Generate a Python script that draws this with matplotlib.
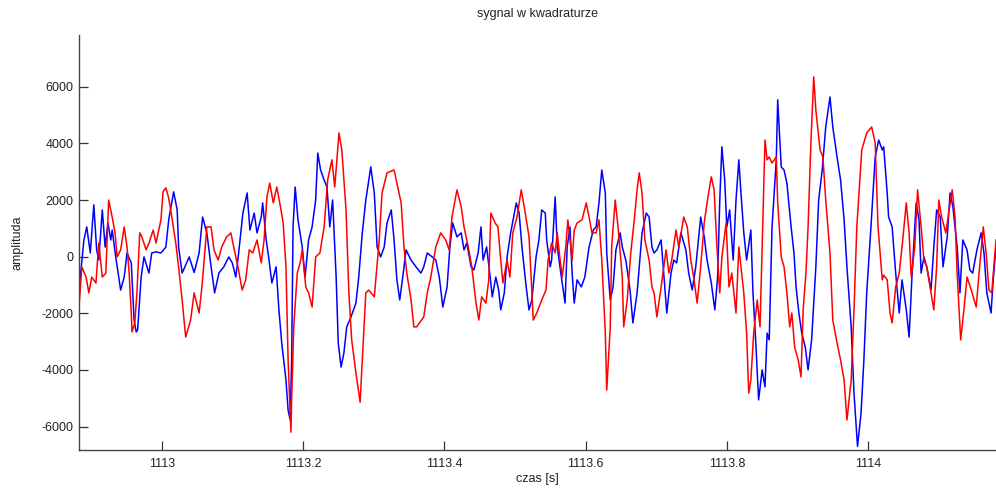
import matplotlib
matplotlib.use("Agg")
import matplotlib.pyplot as plt

plt.rcParams['font.family'] = ['Liberation Sans', 'DejaVu Sans']
plt.rcParams['axes.unicode_minus'] = False

# kanal I (niebieski)
t_i = [1112.883, 1112.890, 1112.894, 1112.899, 1112.904, 1112.908, 1112.911, 1112.916,
       1112.920, 1112.924, 1112.928, 1112.930, 1112.935, 1112.942, 1112.947, 1112.951,
       1112.957, 1112.961, 1112.964, 1112.966, 1112.971, 1112.975, 1112.982, 1112.986,
       1112.992, 1112.999, 1113.006, 1113.010, 1113.017, 1113.022, 1113.024, 1113.029,
       1113.039, 1113.046, 1113.053, 1113.058, 1113.064, 1113.070, 1113.075, 1113.081,
       1113.088, 1113.095, 1113.100, 1113.105, 1113.109, 1113.115, 1113.121, 1113.125,
       1113.131, 1113.135, 1113.141, 1113.143, 1113.148, 1113.152, 1113.156, 1113.162,
       1113.166, 1113.170, 1113.176, 1113.179, 1113.182, 1113.184, 1113.186, 1113.189,
       1113.193, 1113.199, 1113.203, 1113.208, 1113.213, 1113.218, 1113.221, 1113.225,
       1113.230, 1113.234, 1113.238, 1113.242, 1113.247, 1113.250, 1113.254, 1113.258,
       1113.262, 1113.268, 1113.275, 1113.279, 1113.284, 1113.289, 1113.296, 1113.301,
       1113.305, 1113.310, 1113.315, 1113.319, 1113.325, 1113.329, 1113.333, 1113.337,
       1113.342, 1113.346, 1113.353, 1113.360, 1113.367, 1113.371, 1113.376, 1113.383,
       1113.388, 1113.393, 1113.398, 1113.404, 1113.408, 1113.412, 1113.418, 1113.424,
       1113.428, 1113.432, 1113.438, 1113.442, 1113.448, 1113.452, 1113.455, 1113.460,
       1113.465, 1113.468, 1113.473, 1113.477, 1113.480, 1113.485, 1113.489, 1113.494,
       1113.502, 1113.506, 1113.510, 1113.516, 1113.520, 1113.524, 1113.530, 1113.534,
       1113.538, 1113.543, 1113.545, 1113.550, 1113.552, 1113.557, 1113.560, 1113.565,
       1113.571, 1113.574, 1113.578, 1113.581, 1113.584, 1113.588, 1113.594, 1113.599,
       1113.605, 1113.611, 1113.615, 1113.619, 1113.623, 1113.628, 1113.630, 1113.635,
       1113.639, 1113.643, 1113.649, 1113.652, 1113.657, 1113.663, 1113.667, 1113.673,
       1113.680, 1113.686, 1113.690, 1113.694, 1113.697, 1113.701, 1113.707, 1113.711,
       1113.715, 1113.721, 1113.725, 1113.729, 1113.735, 1113.742, 1113.746, 1113.751,
       1113.756, 1113.763, 1113.768, 1113.772, 1113.778, 1113.783, 1113.787, 1113.790,
       1113.793, 1113.797, 1113.800, 1113.804, 1113.809, 1113.813, 1113.817, 1113.820,
       1113.824, 1113.828, 1113.834, 1113.837, 1113.841, 1113.845, 1113.850, 1113.854,
       1113.857, 1113.860, 1113.864, 1113.870, 1113.872, 1113.877, 1113.881, 1113.885,
       1113.891, 1113.895, 1113.898, 1113.902, 1113.906, 1113.911, 1113.915, 1113.920,
       1113.926, 1113.930, 1113.935, 1113.940, 1113.946, 1113.950, 1113.956, 1113.961,
       1113.966, 1113.970, 1113.976, 1113.980, 1113.985, 1113.990, 1113.994, 1113.998,
       1114.004, 1114.010, 1114.015, 1114.020, 1114.022, 1114.027, 1114.029, 1114.034,
       1114.039, 1114.044, 1114.048, 1114.054, 1114.058, 1114.062, 1114.068, 1114.072,
       1114.075, 1114.079, 1114.083, 1114.089, 1114.093, 1114.097, 1114.102, 1114.106,
       1114.112, 1114.116, 1114.120, 1114.126, 1114.130, 1114.134, 1114.140, 1114.144,
       1114.148, 1114.154, 1114.160, 1114.164, 1114.168, 1114.174, 1114.177, 1114.181]
a_i = [-1180, 590, 1050, 130, 1830, 240, -120, 1650,
       340, 1190, 590, 940, -10, -1180, -720, 130,
       -220, -2240, -2660, -2590, -720, -10, -580, 130,
       170, 130, 340, 1300, 2290, 1650, 340, -580,
       -10, -560, 130, 1400, 840, -360, -1280, -580,
       -360, -10, -220, -720, 130, 1540, 2250, 940,
       1540, 840, 1400, 1900, 590, -120, -930, -360,
       -1880, -3050, -4360, -5420, -5770, -3650, 1050, 2460,
       1300, 340, -720, 590, 1050, 2000, 3660, 3060,
       2710, 2460, 1050, 2000, -720, -3050, -3900, -3400,
       -2480, -2130, -1640, -720, 840, 2000, 3170, 2250,
       340, -10, 340, 1190, 1650, 590, -820, -1530,
       -580, 240, -120, -360, -580, -360, 130, -10,
       -120, -720, -1780, -1070, 340, 1190, 700, 840,
       240, 480, -360, -470, 130, 1050, -120, 340,
       -720, -1420, -720, -1180, -1880, -1280, -10, 840,
       1900, 1540, 340, -1070, -1880, -1530, -10, 590,
       1650, 1540, 590, -360, -120, 2110, 340, -580,
       -1640, 340, 1050, -580, -1640, -820, -1070, -720,
       340, 940, 1050, 1900, 3060, 2250, 130, -1530,
       -1070, 240, 840, 340, -120, -1180, -2340, -1280,
       840, 1540, 1400, 340, 130, 240, 590, -720,
       -1990, -580, -120, -220, 840, 240, -580, -1180,
       -360, 1400, 700, -120, -930, -1880, -720, 2000,
       3880, 2710, 1050, 1650, -120, 2000, 3420, 2250,
       840, -120, 940, -1280, -3050, -5060, -4000, -4600,
       -2700, -2940, 1050, 3420, 5540, 3170, 3060, 2600,
       1050, 130, -1070, -1990, -2700, -3190, -4000, -2940,
       -360, 2000, 3060, 4580, 5640, 4580, 3520, 2710,
       1300, -360, -2480, -4820, -6700, -5520, -3650, -1280,
       1050, 3520, 4120, 3770, 3880, 2250, 1400, 1050,
       -580, -1990, -820, -1880, -2840, -720, 1900, 1300,
       -580, -10, -360, -1180, 340, 1650, 1400, -360,
       700, 2250, 1760, 340, -1280, 590, 240, -470,
       -580, 240, 840, 130, -1280, -1990, -820, 340]

# kanal Q (czerwony)
t_q = [1112.883, 1112.887, 1112.893, 1112.897, 1112.901, 1112.907, 1112.911, 1112.916,
       1112.921, 1112.925, 1112.930, 1112.934, 1112.937, 1112.942, 1112.947, 1112.951,
       1112.954, 1112.957, 1112.958, 1112.962, 1112.965, 1112.969, 1112.972, 1112.978,
       1112.982, 1112.988, 1112.992, 1112.999, 1113.002, 1113.006, 1113.010, 1113.015,
       1113.020, 1113.024, 1113.029, 1113.034, 1113.041, 1113.046, 1113.053, 1113.057,
       1113.064, 1113.070, 1113.074, 1113.080, 1113.085, 1113.092, 1113.098, 1113.102,
       1113.108, 1113.114, 1113.119, 1113.124, 1113.129, 1113.135, 1113.141, 1113.145,
       1113.149, 1113.153, 1113.158, 1113.163, 1113.169, 1113.172, 1113.176, 1113.179,
       1113.183, 1113.184, 1113.187, 1113.192, 1113.196, 1113.199, 1113.204, 1113.208,
       1113.213, 1113.218, 1113.224, 1113.230, 1113.235, 1113.241, 1113.245, 1113.251,
       1113.255, 1113.261, 1113.265, 1113.269, 1113.275, 1113.281, 1113.284, 1113.289,
       1113.293, 1113.301, 1113.308, 1113.312, 1113.319, 1113.329, 1113.333, 1113.339,
       1113.343, 1113.347, 1113.353, 1113.357, 1113.361, 1113.371, 1113.376, 1113.381,
       1113.388, 1113.395, 1113.402, 1113.407, 1113.411, 1113.418, 1113.424, 1113.428,
       1113.434, 1113.439, 1113.445, 1113.449, 1113.453, 1113.459, 1113.463, 1113.466,
       1113.472, 1113.476, 1113.480, 1113.483, 1113.489, 1113.493, 1113.497, 1113.503,
       1113.509, 1113.514, 1113.520, 1113.523, 1113.526, 1113.531, 1113.538, 1113.544,
       1113.547, 1113.552, 1113.557, 1113.560, 1113.564, 1113.567, 1113.572, 1113.575,
       1113.581, 1113.584, 1113.588, 1113.595, 1113.601, 1113.605, 1113.609, 1113.615,
       1113.619, 1113.623, 1113.628, 1113.630, 1113.635, 1113.637, 1113.642, 1113.646,
       1113.652, 1113.654, 1113.659, 1113.664, 1113.669, 1113.673, 1113.676, 1113.680,
       1113.684, 1113.690, 1113.694, 1113.697, 1113.701, 1113.707, 1113.714, 1113.718,
       1113.722, 1113.728, 1113.732, 1113.739, 1113.744, 1113.749, 1113.753, 1113.758,
       1113.763, 1113.768, 1113.772, 1113.778, 1113.782, 1113.786, 1113.790, 1113.793,
       1113.799, 1113.803, 1113.807, 1113.813, 1113.817, 1113.820, 1113.824, 1113.828,
       1113.831, 1113.834, 1113.838, 1113.843, 1113.847, 1113.850, 1113.854, 1113.857,
       1113.860, 1113.864, 1113.870, 1113.872, 1113.877, 1113.881, 1113.885, 1113.889,
       1113.892, 1113.896, 1113.901, 1113.905, 1113.908, 1113.912, 1113.915, 1113.919,
       1113.923, 1113.926, 1113.932, 1113.936, 1113.940, 1113.946, 1113.950, 1113.956,
       1113.961, 1113.966, 1113.970, 1113.976, 1113.980, 1113.984, 1113.991, 1113.998,
       1114.005, 1114.010, 1114.014, 1114.020, 1114.022, 1114.027, 1114.031, 1114.034,
       1114.039, 1114.044, 1114.048, 1114.054, 1114.058, 1114.061, 1114.066, 1114.070,
       1114.075, 1114.079, 1114.083, 1114.089, 1114.093, 1114.097, 1114.100, 1114.104,
       1114.110, 1114.114, 1114.119, 1114.123, 1114.126, 1114.131, 1114.136, 1114.140,
       1114.146, 1114.153, 1114.157, 1114.163, 1114.167, 1114.171, 1114.175, 1114.181]
a_q = [-1780, -360, -720, -1280, -720, -930, 480, -720,
       -580, 2000, 1400, 840, -10, 240, 1050, 340,
       -580, -1990, -2660, -2340, -1280, 840, 700, 240,
       480, 940, 480, 1300, 2290, 2430, 2070, 1300,
       480, -360, -1530, -2840, -2240, -1280, -1990, -1070,
       1050, 1050, 240, -120, 340, 700, 840, 340,
       -360, -1180, -820, 240, 130, 590, -220, 590,
       2110, 2600, 1900, 2460, 1650, 1190, -360, -3650,
       -6200, -5060, -2480, -580, -220, 240, -1070, -1280,
       -1780, -10, 130, 1050, 2710, 3420, 2460, 4370,
       3770, 1650, -1280, -2940, -4110, -5140, -3650, -1280,
       -1180, -1420, 590, 2250, 2960, 3060, 2600, 1900,
       340, -580, -1530, -2480, -2480, -2130, -1280, -720,
       340, 840, 590, 240, 1400, 2360, 1760, 1050,
       340, -360, -1640, -2240, -1420, -1640, -820, 1540,
       1190, 1050, -120, -930, -120, -720, 840, 1400,
       2360, 1650, 700, -720, -2240, -1990, -1530, -1180,
       -120, 480, 130, 840, -120, -720, 340, 1300,
       -120, 940, 1190, 1300, 1900, 1400, 840, 840,
       1300, -120, -2700, -4710, -2480, 340, 2000, 1050,
       -720, -2480, -1530, 130, 1300, 2360, 2960, 2250,
       590, -120, -1070, -1280, -2130, -1070, 240, -580,
       -120, 940, 340, 1400, 1050, -120, -720, -1640,
       -360, 1190, 1900, 2820, 2360, 340, -1280, -10,
       1190, -1070, -580, -1990, 340, -360, -1280, -2700,
       -4820, -4360, -2700, -1530, -2480, 340, 4120, 3420,
       3520, 3310, 3520, 1900, -10, -360, -1280, -2480,
       -1990, -3190, -3650, -4250, -1880, -580, 1050, 4020,
       6350, 5180, 3770, 3520, 2000, 130, -2240, -3050,
       -3650, -4360, -5770, -4360, -1880, 1050, 3770, 4370,
       4580, 4020, 1050, -820, -650, -820, -1990, -2340,
       -1070, -580, 340, 1900, 840, -720, 340, 2360,
       1050, -120, -360, -1280, -1880, -360, 2000, 1400,
       840, 1540, 2360, 1400, -580, -2940, -1780, -720,
       -1180, -1780, -580, 1050, 130, -1180, -1280, 590]

fig = plt.figure(figsize=(9.96, 4.95), dpi=100)
ax = fig.add_axes([0.0793, 0.0909, 0.9207, 0.8384])

ax.plot(t_i, a_i, color='#0000ff', lw=1.1)
ax.plot(t_q, a_q, color='#ff0000', lw=1.1)

ax.set_xlim(1112.883, 1114.181)
ax.set_ylim(-6830, 7830)
ax.set_xticks([1113, 1113.2, 1113.4, 1113.6, 1113.8, 1114])
ax.set_xticklabels(['1113', '1113.2', '1113.4', '1113.6', '1113.8', '1114'])
ax.set_yticks([-6000, -4000, -2000, 0, 2000, 4000, 6000])

# tylko lewa i dolna os, znaczniki do wewnatrz
for s in ['top', 'right']:
    ax.spines[s].set_visible(False)
for s in ['left', 'bottom']:
    ax.spines[s].set_color('#444444')
    ax.spines[s].set_linewidth(1.0)
ax.tick_params(direction='in', length=6.5, width=0.9, color='#333333',
               labelsize=9, labelcolor='#222222')
ax.tick_params(axis='x', pad=6)
ax.tick_params(axis='y', pad=4)

ax.set_title('sygnal w kwadraturze', fontsize=9, color='#222222', pad=13)
ax.set_xlabel('czas [s]', fontsize=9, color='#222222', labelpad=2)
ax.set_ylabel('amplituda', fontsize=9, color='#222222', labelpad=13)

fig.savefig('out.png', dpi=100)
